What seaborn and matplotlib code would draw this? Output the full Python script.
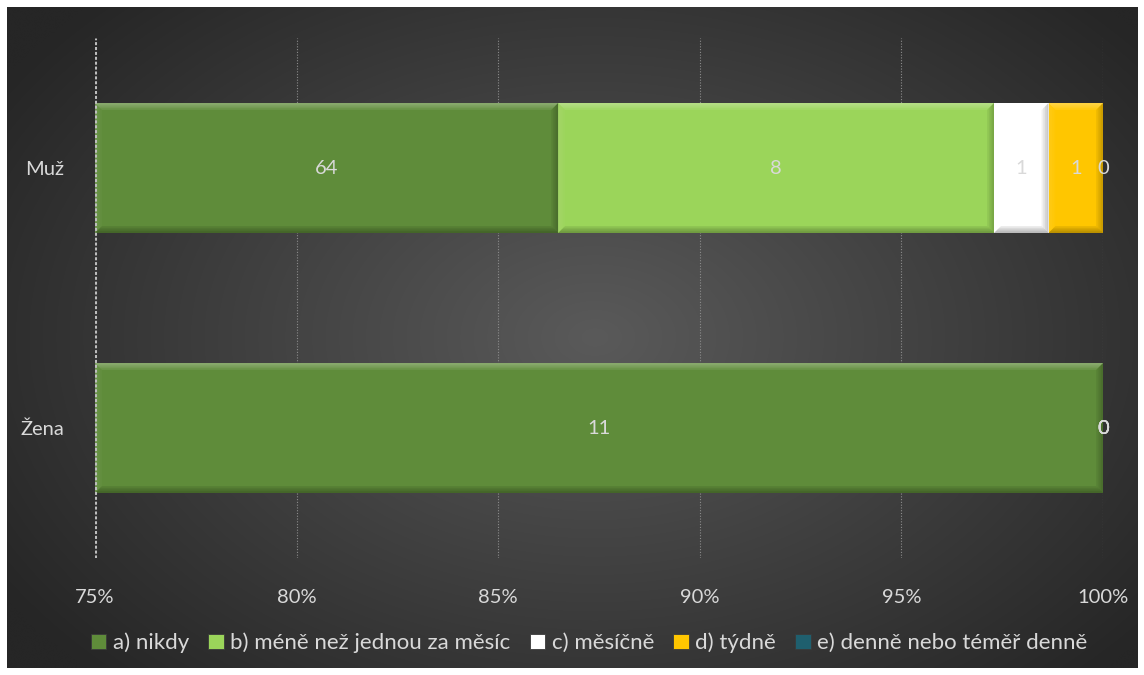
import numpy as np
import pandas as pd
import matplotlib
matplotlib.use("Agg")
import matplotlib.pyplot as plt
from matplotlib.patches import Polygon, Patch
import seaborn as sns

# --- data -------------------------------------------------------------
groups = ["Muž", "Žena"]
series = ["a) nikdy", "b) méně než jednou za měsíc", "c) měsíčně",
          "d) týdně", "e) denně nebo téměř denně"]
a_nikdy = [64, 11]
b_mene = [8, 0]
c_mesicne = [1, 0]
d_tydne = [1, 0]
e_denne = [0, 0]
colors = ["#5f8c3a", "#9bd55a", "#ffffff", "#ffc600", "#1f5f6e"]
x_ticks = [75, 80, 85, 90, 95, 100]
x_tick_labels = ["75%", "80%", "85%", "90%", "95%", "100%"]

counts = np.array([a_nikdy, b_mene, c_mesicne, d_tydne, e_denne], dtype=float)
totals = counts.sum(axis=0)
pct = counts / totals * 100
cum = np.cumsum(pct, axis=0)
starts = cum - pct

df = pd.DataFrame({"pohlavi": groups})
for i, s in enumerate(series):
    df[s] = cum[i]

# --- style ------------------------------------------------------------
sns.set_theme(style="white")
plt.rcParams["font.family"] = ["Lato", "DejaVu Sans"]
text_col = "#d9d9d9"

W, H = 1144, 675
fig = plt.figure(figsize=(W / 100, H / 100), dpi=100, facecolor="white")

# dark radial-gradient backdrop
bg = fig.add_axes([7 / W, 7 / H, 1131 / W, 661 / H], zorder=0)
yy, xx = np.mgrid[0:1:400j, 0:1:700j]
r = np.sqrt(((xx - 0.52) / 0.62) ** 2 + ((yy - 0.5) / 0.72) ** 2)
r = np.clip(r, 0, 1)
c_in = np.array([0x5a, 0x5a, 0x5a]) / 255
c_out = np.array([0x26, 0x26, 0x26]) / 255
img = c_in[None, None, :] * (1 - r[..., None]) + c_out[None, None, :] * r[..., None]
bg.imshow(img, aspect="auto", extent=[0, 1, 0, 1], interpolation="bicubic")
bg.set_axis_off()

ax_l, ax_r, ax_t, ax_b = 95, 1103, 38, 558
ax = fig.add_axes([ax_l / W, 1 - ax_b / H, (ax_r - ax_l) / W, (ax_b - ax_t) / H],
                  zorder=1)
ax.patch.set_alpha(0)

# stacked bars: longest cumulative first, then overlay shorter ones
for i in reversed(range(len(series))):
    sns.barplot(data=df, x=series[i], y="pohlavi", orient="h", color=colors[i],
                width=0.5, saturation=1, ax=ax, zorder=3, linewidth=0)

xmin, xmax = 75, 100
ax.set_xlim(xmin, xmax)
ax.set_ylim(1.5, -0.5)

# soft bevel shading on each visible segment (graded strips)
px_x = (xmax - xmin) / (ax_r - ax_l)
px_y = 2.0 / (ax_b - ax_t)
half = 0.25
steps = 4
for gi in range(len(groups)):
    for si in range(len(series)):
        x0 = max(starts[si, gi], xmin)
        x1 = cum[si, gi]
        if x1 - x0 <= 1e-9:
            continue
        y0, y1 = gi - half, gi + half  # y0 is the top (inverted axis)
        for k in range(steps):
            f = (k + 1) / steps
            bx = min(7 * f * px_x, (x1 - x0) / 2)
            by = 7 * f * px_y
            w = 1.0 / steps
            shades = [
                ([(x0, y0), (x1, y0), (x1 - bx, y0 + by), (x0 + bx, y0 + by)], "white", 0.30 * w),
                ([(x0, y1), (x1, y1), (x1 - bx, y1 - by), (x0 + bx, y1 - by)], "black", 0.30 * w),
                ([(x0, y0), (x0 + bx, y0 + by), (x0 + bx, y1 - by), (x0, y1)], "white", 0.10 * w),
                ([(x1, y0), (x1 - bx, y0 + by), (x1 - bx, y1 - by), (x1, y1)], "black", 0.22 * w),
            ]
            for pts, col, al in shades:
                ax.add_patch(Polygon(pts, closed=True, facecolor=col, alpha=al,
                                     linewidth=0, zorder=4))

# value labels centred on the visible part of each segment
for gi in range(len(groups)):
    for si in range(len(series)):
        x0 = max(starts[si, gi], xmin)
        x1 = cum[si, gi]
        ax.text((x0 + x1) / 2, gi, f"{int(counts[si, gi])}", ha="center",
                va="center", color=text_col, fontsize=14.5, zorder=6)

# grid and axes
ax.set_xticks(x_ticks)
ax.set_xticklabels(x_tick_labels, color=text_col, fontsize=14.5)
ax.set_yticks(range(len(groups)))
ax.set_yticklabels(groups, color=text_col, fontsize=14.5)
ax.tick_params(axis="x", length=0, pad=22)
ax.tick_params(axis="y", length=0, pad=22)
ax.set_xlabel("")
ax.set_ylabel("")
for sp in ax.spines.values():
    sp.set_visible(False)
for xv in x_ticks[1:]:
    ax.axvline(xv, color="#8c8c8c", linestyle=(0, (1, 1.5)), linewidth=0.8, zorder=1)
ax.axvline(xmin, color="#bdbdbd", linestyle=(0, (1, 0.6)), linewidth=2.2, zorder=5)

# legend
handles = [Patch(facecolor=c, edgecolor="#3a3a3a", linewidth=0.6) for c in colors]
fig.legend(handles, series, loc="center", bbox_to_anchor=(0.515, 1 - 643 / H),
           ncol=5, frameon=False, fontsize=16, labelcolor=text_col,
           handlelength=0.7, handleheight=0.7, handletextpad=0.3,
           columnspacing=0.85)

fig.savefig("out.png", dpi=100, facecolor="white")
